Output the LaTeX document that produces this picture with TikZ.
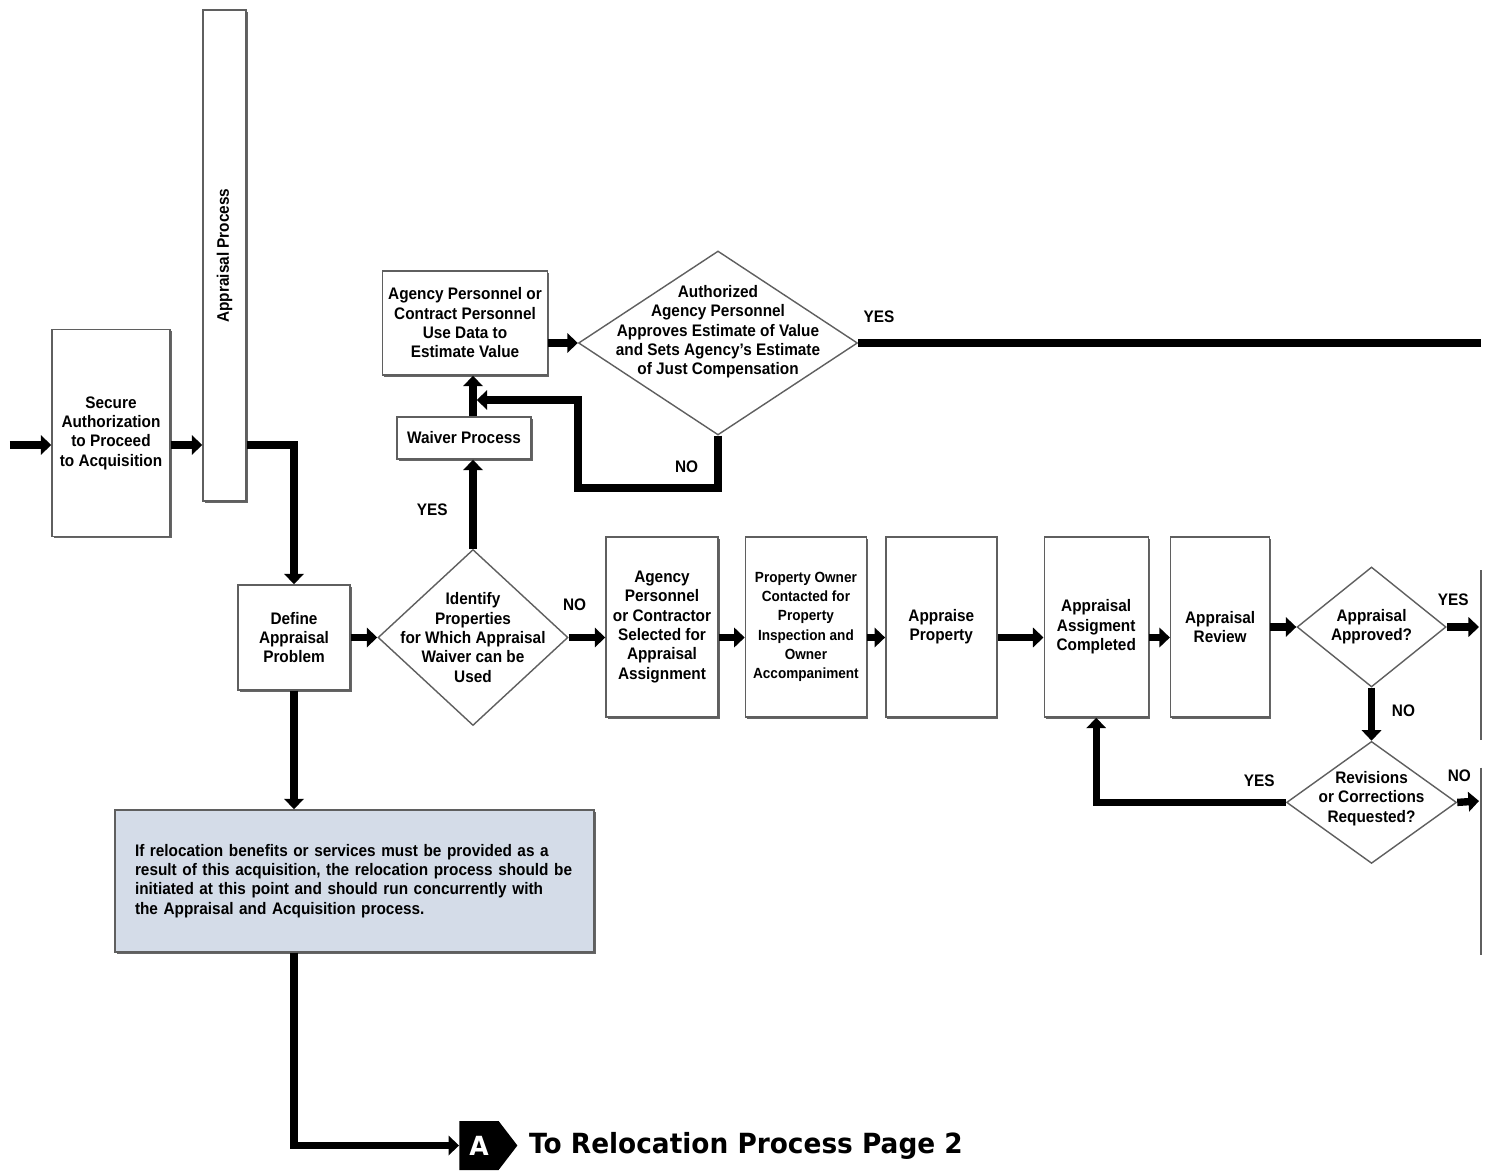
\documentclass[tikz,border=0pt]{standalone}
\usepackage{fontspec}
\setmainfont{Liberation Sans}[FakeStretch=0.92]
\newfontfamily\headfont{DejaVu Sans}[FakeStretch=0.95]
\usetikzlibrary{arrows.meta,positioning,shapes.geometric,shapes.symbols,shadows}
\definecolor{notefill}{RGB}{212,220,232}
\definecolor{boxline}{RGB}{95,95,95}

\begin{document}
\begin{tikzpicture}[>={Triangle[length=6pt,width=11pt]},
	every node/.style={font=\bfseries\fontsize{9.5}{11}\selectfont},
	box/.style={draw=boxline, fill=white, line width=0.8pt, align=center,
		drop shadow={shadow xshift=0.9pt, shadow yshift=-0.9pt, fill=black!60, opacity=1}},
	decide/.style={diamond, draw=boxline, fill=white, line width=0.8pt, inner sep=0pt},
	flow/.style={->, line width=4.2pt},
	yn/.style={inner sep=1pt}]
	\path[fill=white, use as bounding box] (0,0) rectangle (29.82,-23.42);
	
	% Nodes
	\node[box, minimum width=2.36cm, minimum height=4.14cm] (secure) at (2.22,-8.66) {Secure\\Authorization\\to Proceed\\to Acquisition};
	\node[box, minimum width=0.86cm, minimum height=9.82cm] (apprproc) at (4.49,-5.11) {\rotatebox{90}{Appraisal Process}};
	\node[box, minimum width=2.24cm, minimum height=2.1cm] (define) at (5.88,-12.75) {Define\\Appraisal\\Problem};
	\node[decide, minimum width=3.8cm, minimum height=3.52cm] (identify) at (9.46,-12.75) {};
	\node[align=center] (identify-txt) at (identify) {Identify\\Properties\\for Which Appraisal\\Waiver can be\\Used};
	
	\node[box, minimum width=2.24cm, minimum height=3.6cm] (select) at (13.24,-12.54) {Agency\\Personnel\\or Contractor\\Selected for\\Appraisal\\Assignment};
	\node[box, right=0.52cm of select, minimum width=2.42cm, minimum height=3.6cm, font=\bfseries\fontsize{8.4}{11}\selectfont] (owner) {Property Owner\\Contacted for\\Property\\Inspection and\\Owner\\Accompaniment};
	\node[box, right=0.36cm of owner, minimum width=2.22cm, minimum height=3.6cm] (appraise) {Appraise\\Property};
	\node[box, right=0.92cm of appraise, minimum width=2.08cm, minimum height=3.6cm] (completed) {Appraisal\\Assigment\\Completed};
	\node[box, right=0.42cm of completed, minimum width=1.98cm, minimum height=3.6cm] (review) {Appraisal\\Review};
	\node[decide, right=0.52cm of review, minimum width=2.98cm, minimum height=2.4cm] (approved) {};
	\node[align=center] (approved-txt) at (approved) {Appraisal\\Approved?};
	\node[decide, below=1.06cm of approved, minimum width=3.4cm, minimum height=2.44cm] (revisions) {};
	\node[align=center] (revisions-txt) at ([yshift=0.08cm]revisions) {Revisions\\or Corrections\\Requested?};
	
	\node[box, minimum width=2.68cm, minimum height=0.84cm] (waiver) at (9.28,-8.76) {Waiver Process};
	\node[box, minimum width=3.2cm, minimum height=2.08cm] (estimate) at (9.3,-6.46) {Agency Personnel or\\Contract Personnel\\Use Data to\\Estimate Value};
	\node[decide, minimum width=5.58cm, minimum height=3.68cm] (authorize) at (14.36,-6.86) {};
	\node[align=center] (authorize-txt) at ([yshift=0.22cm]authorize) {Authorized\\Agency Personnel\\Approves Estimate of Value\\and Sets Agency's Estimate\\of Just Compensation};
	
	\node[box, fill=notefill, minimum height=2.84cm, text width=8.78cm, inner xsep=0.4cm, align=left] (note) at (7.09,-17.62) {If relocation benefits or services must be provided as a\\result of this acquisition, the relocation process should be\\initiated at this point and should run concurrently with\\the Appraisal and Acquisition process.};
	
	\node[signal, signal to=east, signal pointer angle=105, fill=black, text=white, minimum width=1.16cm, minimum height=0.98cm, inner sep=0pt, font=\headfont\bfseries\fontsize{15}{15}\selectfont] (tagA) at (9.58,-22.91) {A};
	\node[right=0.22cm of tagA, inner sep=0pt, font=\headfont\bfseries\fontsize{15.8}{18}\selectfont] (relo) {To Relocation Process Page 2};
	
	\coordinate (start) at (0.2,-8.9);
	\coordinate (endtop) at (29.62,-6.86);
	\coordinate (endyes) at (29.58,-12.54);
	\coordinate (endno) at (29.58,-16.02);
	\coordinate (loopa) at (11.56,-9.76);
	\coordinate (loopb) at (11.56,-8.0);
	
	% Arrows
	\draw[flow] (start) -- (start -| secure.west);
	\draw[flow] (start -| secure.east) -- (start -| apprproc.west);
	\draw[flow] (start -| apprproc.east) -| (define.north);
	\draw[flow] (define) -- (identify);
	\draw[flow] (identify.east) -- node[yn, pos=0.16, above=0.43cm] {NO} (identify.east -| select.west);
	\draw[flow] (select.east |- define) -- (owner.west |- define);
	\draw[flow] (owner.east |- define) -- (appraise.west |- define);
	\draw[flow] (appraise.east |- define) -- (completed.west |- define);
	\draw[flow] (completed.east |- define) -- (review.west |- define);
	\draw[flow] (review) -- (approved);
	\draw[flow] (approved.east) -- node[yn, pos=0.2, above=0.32cm] {YES} (endyes);
	\draw[flow] (approved.south) -- node[yn, pos=0.43, right=0.3cm] {NO} (revisions.north);
	\draw[flow] (revisions.east) -- node[yn, pos=0.1, above=0.3cm] {NO} (endno);
	\draw[flow] (revisions.west) -| node[yn, pos=0.07, above=0.2cm] {YES} (completed.south);
	
	\draw[flow] (identify.north) -- node[yn, pos=0.44, left=0.4cm] {YES} (identify.north |- waiver.south);
	\draw[flow] (identify.north |- waiver.north) -- (identify.north |- estimate.south);
	\draw[flow] (estimate.east |- authorize) -- (authorize.west);
	\draw[line width=4.2pt] (authorize.east) -- node[yn, at start, above right=0.3cm and 0cm] {YES} (endtop);
	\draw[flow] (authorize.south) -- node[yn, pos=0.6, left=0.29cm] {NO} (authorize.south |- loopa) -- (loopa) -- (loopb) -- ([xshift=2.1pt]loopb -| identify.north);
	
	\draw[flow] (define.south) -- (define.south |- note.north);
	\draw[flow] (define |- note.south) |- (tagA.west);
	
	% edges of the next sheet
	\draw[boxline, line width=0.8pt] (29.62,-11.4) -- (29.62,-14.8);
	\draw[boxline, line width=0.8pt] (29.62,-15.35) -- (29.62,-19.1);
\end{tikzpicture}
\end{document}
